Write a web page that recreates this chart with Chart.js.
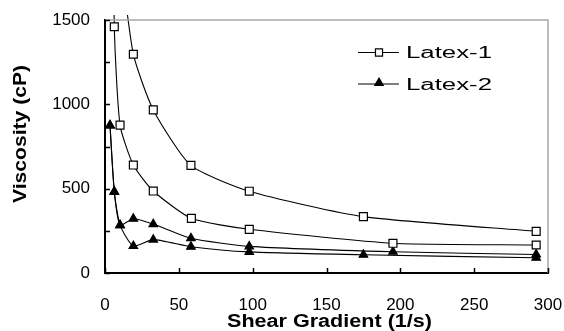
<!DOCTYPE html>
<html><head><meta charset="utf-8">
<script src="https://cdn.jsdelivr.net/npm/chart.js@4/dist/chart.umd.min.js"></script>
<style>html,body{margin:0;padding:0;background:#fff}#wrap{width:564px;height:331px}</style>
</head><body><div id="wrap"><canvas id="c" width="564" height="331"></canvas></div>
<script>
// ---- data ----
const legendNames = ['Latex-1', 'Latex-2'];
const latex1aX = [10, 19.2, 32.7, 58.2, 97.7, 175, 292];
const latex1aY = [1900, 1297, 967, 638, 485, 334, 247];
const latex1bX = [5.5, 6.3, 10.2, 19.2, 32.7, 58.5, 97.7, 195, 292];
const latex1bY = [2600, 1460, 877, 640, 486, 324, 259, 176, 166];
const latex2aX = [3.4, 6.3, 10.2, 19.2, 32.7, 58.2, 97.7, 195, 292];
const latex2aY = [875, 482, 284, 322, 290, 206, 158, 126, 110];
const latex2bX = [3.4, 6.3, 10.2, 19.2, 32.7, 58.2, 97.7, 175, 292];
const latex2bY = [875, 482, 284, 160, 198, 156, 125, 108, 90];
const xTickValues = [0, 50, 100, 150, 200, 250, 300];
const yLabelStep = 500;
const yTickStep = 250;
const xTitle = 'Shear Gradient (1/s)';
const yTitle = 'Viscosity (cP)';

const pts = (xs, ys) => xs.map((v, i) => ({x: v, y: ys[i]}));
const FONT = '"Liberation Sans", Arial, sans-serif';

function ds(label, xs, ys, shape, legend) {
  const sq = shape === 'rect';
  return {
    label, data: pts(xs, ys), showInLegend: legend,
    borderColor: '#000', borderWidth: 1.1, tension: 0.2,
    pointStyle: shape, pointRadius: sq ? 5.6 : 4.9,
    pointBackgroundColor: sq ? '#fff' : '#000', pointBorderColor: '#000', pointBorderWidth: 1.2,
    clip: {left: 0, top: 5, right: 6, bottom: 0}, fill: false
  };
}

const datasets = [
  ds(legendNames[0], latex1aX, latex1aY, 'rect', true),
  ds(legendNames[0], latex1bX, latex1bY, 'rect', false),
  ds(legendNames[1], latex2aX, latex2aY, 'triangle', true),
  ds(legendNames[1], latex2bX, latex2bY, 'triangle', false)
];

function drawStretched(ctx, text, x, y, targetW, font, align) {
  ctx.font = font;
  const w = ctx.measureText(text).width;
  const s = targetW / w;
  ctx.save();
  ctx.translate(x, y);
  ctx.scale(s, 1);
  ctx.textAlign = align;
  ctx.fillText(text, 0, 0);
  ctx.restore();
}

const decor = {
  id: 'decor',
  afterDraw(chart) {
    const {ctx, chartArea: a, scales: {x, y}} = chart;
    ctx.save();
    ctx.strokeStyle = '#a8a8a8'; ctx.lineWidth = 1.5;
    ctx.beginPath();
    ctx.moveTo(a.left, a.top); ctx.lineTo(a.right, a.top); ctx.lineTo(a.right, a.bottom);
    ctx.stroke();
    ctx.strokeStyle = '#000'; ctx.lineWidth = 1.5;
    ctx.beginPath();
    y.ticks.forEach(t => {
      const py = Math.round(y.getPixelForValue(t.value)) + 0.5;
      ctx.moveTo(a.left, py); ctx.lineTo(a.left + 5, py);
    });
    x.ticks.forEach(t => {
      const px = Math.round(x.getPixelForValue(t.value)) + 0.5;
      ctx.moveTo(px, a.bottom); ctx.lineTo(px, a.bottom - 5);
    });
    ctx.stroke();
    ctx.fillStyle = '#000';
    ctx.textBaseline = 'middle';
    drawStretched(ctx, xTitle, (a.left + a.right) / 2 + 3, 322, 205, 'bold 18px ' + FONT, 'center');
    ctx.save();
    ctx.translate(21, 134);
    ctx.rotate(-Math.PI / 2);
    drawStretched(ctx, yTitle, 0, 0, 138, 'bold 18px ' + FONT, 'center');
    ctx.restore();
    const items = chart.data.datasets.filter(d => d.showInLegend);
    const rows = [52.5, 84];
    ctx.textBaseline = 'alphabetic';
    items.forEach((d, i) => {
      const ly = rows[i];
      ctx.strokeStyle = '#000'; ctx.lineWidth = 1.1;
      ctx.beginPath(); ctx.moveTo(358, ly); ctx.lineTo(399, ly); ctx.stroke();
      ctx.fillStyle = d.pointBackgroundColor;
      ctx.strokeStyle = '#000'; ctx.lineWidth = 1.2;
      Chart.helpers.drawPoint(ctx, {
        pointStyle: d.pointStyle, radius: d.pointStyle === 'rect' ? 5 : 4.9, borderWidth: 1.2
      }, 379, d.pointStyle === 'rect' ? ly : ly - 1);
      ctx.fillStyle = '#000';
      drawStretched(ctx, d.label, 406, ly + 5.5, 86, '16px ' + FONT, 'left');
    });
    ctx.restore();
  }
};

new Chart(document.getElementById('c'), {
  type: 'line',
  data: {datasets},
  options: {
    responsive: false, animation: false, devicePixelRatio: 1,
    layout: {padding: {left: 0, right: 16, top: 20, bottom: 0}},
    plugins: {legend: {display: false}, tooltip: {enabled: false}},
    scales: {
      x: {
        type: 'linear', min: 0, max: 300,
        afterBuildTicks: s => { s.ticks = xTickValues.map(v => ({value: v})); },
        afterFit: s => { s.height = 58; s.paddingLeft = 0; s.paddingRight = 0; },
        grid: {display: false, drawTicks: false},
        border: {display: true, color: '#000', width: 2},
        ticks: {color: '#000', font: {family: FONT, size: 17}, padding: 22, maxRotation: 0}
      },
      y: {
        type: 'linear', min: 0, max: 1500,
        afterFit: s => { s.width = 105; s.paddingTop = 0; s.paddingBottom = 0; },
        grid: {display: false, drawTicks: false},
        border: {display: true, color: '#000', width: 2},
        ticks: {stepSize: yTickStep, color: '#000', font: {family: FONT, size: 17}, padding: 15,
          callback: v => (v % yLabelStep === 0 ? v : '')}
      }
    }
  },
  plugins: [decor]
});
</script></body></html>
